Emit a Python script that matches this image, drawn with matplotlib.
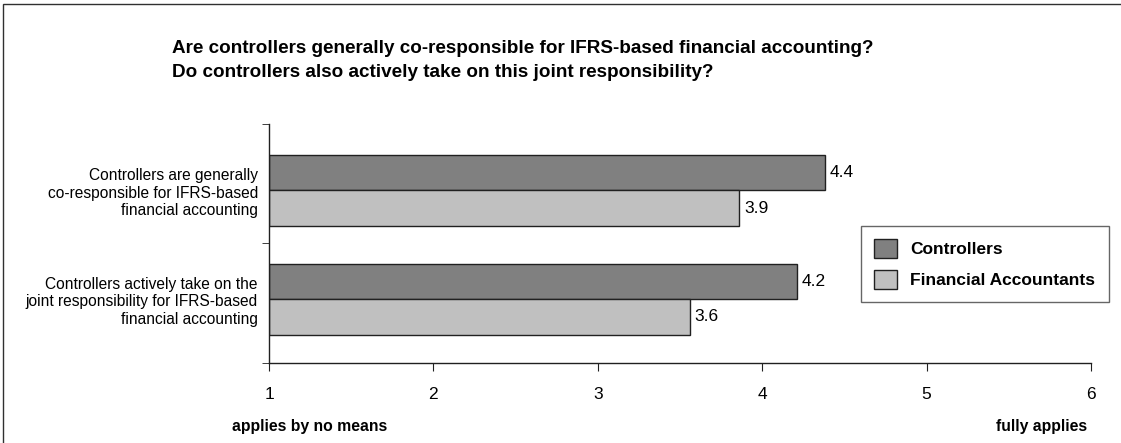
import matplotlib
matplotlib.use("Agg")
import matplotlib.pyplot as plt
from matplotlib.patches import Rectangle, Patch

plt.rcParams['font.family'] = ['Liberation Sans', 'DejaVu Sans']

# survey means on a 1..6 agreement scale
statements = ["Controllers are generally\nco-responsible for IFRS-based\nfinancial accounting",
              "Controllers actively take on the\njoint responsibility for IFRS-based\nfinancial accounting"]
controllers = [4.38, 4.21]
accountants = [3.86, 3.56]
series_names = ["Controllers", "Financial Accountants"]
x_ticks = [1, 2, 3, 4, 5, 6]

dark = '#808080'
light = '#c0c0c0'

W, H = 1121, 443
fig = plt.figure(figsize=(W / 100, H / 100), dpi=100)
ax = fig.add_axes([269 / W, (H - 363.3) / H, (1091 - 269) / W, (363.3 - 124) / H])

bh = 0.327
ypos = [0, 1]
for i, y in enumerate(ypos):
    ax.barh(y - bh / 2, controllers[i] - 1, left=1, height=bh, color=dark,
            edgecolor='#202020', linewidth=1)
    ax.barh(y + bh / 2, accountants[i] - 1, left=1, height=bh, color=light,
            edgecolor='#202020', linewidth=1)
    ax.text(controllers[i] + 0.03, y - bh / 2, f"{controllers[i]:.1f}",
            va='center', ha='left', fontsize=12.5)
    ax.text(accountants[i] + 0.03, y + bh / 2, f"{accountants[i]:.1f}",
            va='center', ha='left', fontsize=12.5)

ax.set_xlim(1, 6)
ax.set_ylim(1.59, -0.61)
ax.set_xticks(x_ticks)
ax.set_xticklabels([str(t) for t in x_ticks], fontsize=12.5)
ax.tick_params(axis='x', length=6, pad=11, color='#202020')

ax.set_yticks(ypos)
ax.set_yticklabels(statements, fontsize=11.2, ha='right', linespacing=1.2)
ax.tick_params(axis='y', which='major', length=0, pad=8)
ax.set_yticks([-0.61, 0.482, 1.59], minor=True)
ax.tick_params(axis='y', which='minor', length=5, color='#202020')

for s in ['top', 'right']:
    ax.spines[s].set_visible(False)
for s in ['left', 'bottom']:
    ax.spines[s].set_color('#202020')
    ax.spines[s].set_linewidth(1)

fig.text(172 / W, 1 - 60.5 / H, "Are controllers generally co-responsible for IFRS-based financial accounting?\n"
         "Do controllers also actively take on this joint responsibility?",
         ha='left', va='center', fontsize=13.6, fontweight='bold', linespacing=1.6)

fig.text(232 / W, 1 - 426 / H, "applies by no means", ha='left', va='center',
         fontsize=11.3, fontweight='bold')
fig.text(1087 / W, 1 - 426 / H, "fully applies", ha='right', va='center',
         fontsize=11.3, fontweight='bold')

handles = [Patch(facecolor=dark, edgecolor='#202020'),
           Patch(facecolor=light, edgecolor='#202020')]
leg = fig.legend(handles, series_names, loc='upper left',
                 bbox_to_anchor=(861 / W, 1 - 225.7 / H), fancybox=False,
                 prop={'weight': 'bold', 'size': 12.5}, handlelength=1.3,
                 handleheight=1.3, borderpad=0.75, labelspacing=0.72,
                 handletextpad=0.8, borderaxespad=0)
leg.get_frame().set_edgecolor('#404040')
leg.get_frame().set_linewidth(1)

# outer frame round the chart area (right and bottom edges lie off the canvas)
fig.patches.append(Rectangle((3 / W, -0.05), 1.1, 1.05 - 4 / H,
                             transform=fig.transFigure, fill=False,
                             edgecolor='#303030', linewidth=1))

fig.savefig('out.png', dpi=100)
